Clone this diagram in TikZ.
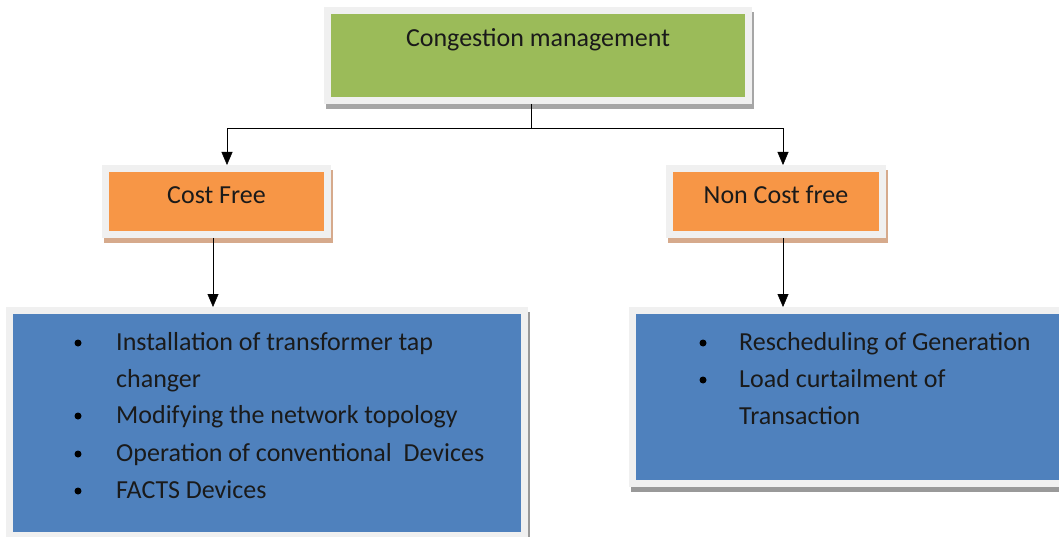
\documentclass[tikz,border=0pt]{standalone}
\usepackage{fontspec}
\setmainfont{Carlito}
\usetikzlibrary{arrows.meta,shadows}
\definecolor{cmgreen}{HTML}{9BBB59}
\definecolor{cmorange}{HTML}{F79646}
\definecolor{cmblue}{HTML}{4F81BD}
\definecolor{cmframe}{HTML}{F0F0F0}
\definecolor{cmtext}{HTML}{1A1A1A}
\definecolor{cmtan}{HTML}{D6AA8C}
\tikzset{
  box/.style={draw=cmframe, line width=7pt, outer sep=3.5pt, inner sep=0pt,
    text=cmtext, anchor=north west},
  boxshadow/.style={drop shadow={shadow xshift=2pt, shadow yshift=-5pt,
    opacity=1, fill=#1, draw=#1, line width=7pt}},
  item/.style={anchor=base west, inner sep=0pt, text=cmtext},
  dot/.style={circle, fill=black, minimum size=7pt, inner sep=0pt},
}
\begin{document}
\begin{tikzpicture}[x=1pt,y=-1pt,font=\fontsize{26}{30}\selectfont,
    >={Triangle[length=13pt,width=11pt]}]
  \useasboundingbox (0,0) rectangle (1059,537);
  % boxes
  \node[box, fill=cmgreen, boxshadow=black!35, minimum width=421pt,
    text height=36.5pt, text depth=53.5pt] (cm) at (324,7) {Congestion management};
  \node[box, fill=cmorange, boxshadow=cmtan, minimum width=222pt,
    text height=35.5pt, text depth=30.5pt] (cf) at (102,165) {Cost Free};
  \node[box, fill=cmorange, boxshadow=cmtan, minimum width=213pt,
    text height=35.5pt, text depth=30.5pt] (nc) at (666,165) {Non Cost free};
  \node[box, fill=cmblue, boxshadow=black!40, minimum width=515pt,
    minimum height=225pt] (lst) at (6,307) {};
  \node[box, fill=cmblue, boxshadow=black!40, minimum width=430pt,
    minimum height=173pt] (rst) at (629,307) {};
  % connectors
  \coordinate (split) at (531,128);
  \draw (cm.south -| split) -- (split);
  \draw[->] (split) -| ([xshift=10.5pt]cf.north);
  \draw[->] (split) -| ([xshift=7pt]nc.north);
  \draw[->] ([xshift=-3.5pt]cf.south) -- ([xshift=-3.5pt]cf.south |- lst.north);
  \draw[->] ([xshift=7pt]nc.south) -- ([xshift=7pt]nc.south |- rst.north);
  % left list
  \node[dot] (d1) at (78,343) {};
  \node[item] (i1) at (116,350) {Installation of transformer tap};
  \node[item] (i1b) at (116,387) {changer};
  \node[dot] (d2) at (78,416) {};
  \node[item] (i2) at (116,423) {Modifying the network topology};
  \node[dot] (d3) at (78,454) {};
  \node[item] (i3) at (116,461) {Operation of conventional~ Devices};
  \node[dot] (d4) at (78,491) {};
  \node[item] (i4) at (116,498) {FACTS Devices};
  % right list
  \node[dot] (e1) at (703,343) {};
  \node[item] (j1) at (739,350) {Rescheduling of Generation};
  \node[dot] (e2) at (703,380) {};
  \node[item] (j2) at (739,387) {Load curtailment of};
  \node[item] (j2b) at (739,424) {Transaction};
\end{tikzpicture}
\end{document}
